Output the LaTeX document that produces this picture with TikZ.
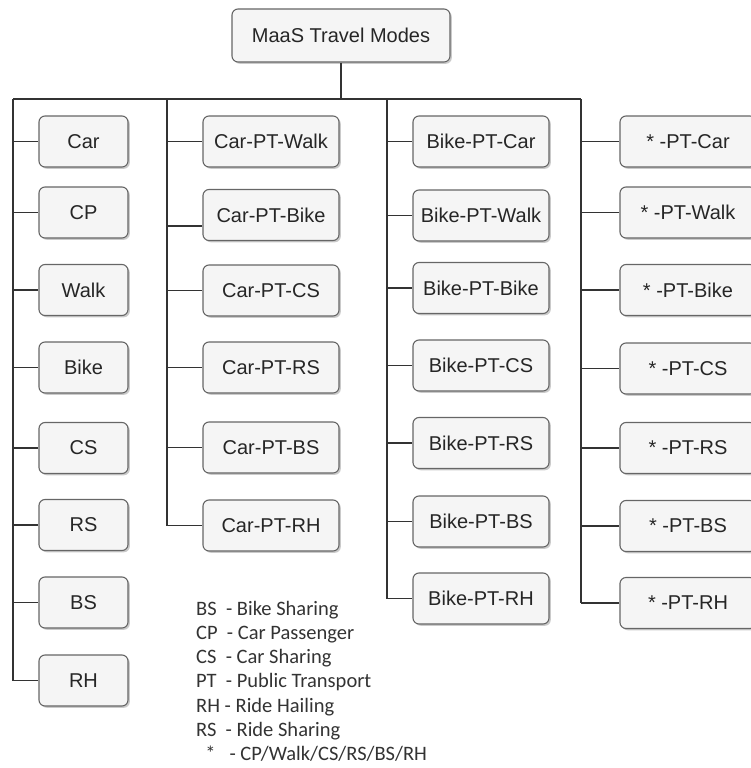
\documentclass[tikz,border=0pt]{standalone}
\usepackage{fontspec}
\setmainfont{Liberation Sans}
\newfontfamily\legendfont{Carlito}
\usetikzlibrary{shadows}
\definecolor{boxfill}{HTML}{F5F5F5}
\definecolor{boxline}{HTML}{666666}
\definecolor{wire}{HTML}{333333}
\definecolor{legtext}{HTML}{333333}
\tikzset{
  mbox/.style={draw=boxline, fill=boxfill, rounded corners=6pt, line width=1.1pt,
    minimum height=51pt, inner sep=0pt, text=black!85,
    font=\fontsize{20}{22}\selectfont,
    drop shadow={shadow xshift=1.8pt, shadow yshift=-1.8pt, opacity=0.35, fill=black!60}},
  c1box/.style={mbox, minimum width=89pt},
  c2box/.style={mbox, minimum width=136pt},
  wirestyle/.style={draw=wire, line width=1.3pt},
  legend/.style={anchor=base west, inner sep=0pt, text=legtext,
    font=\legendfont\fontsize{20.5}{24}\selectfont}
}
\begin{document}
\begin{tikzpicture}[x=1pt, y=-1pt]
\useasboundingbox (0,0) rectangle (750,768);

% title
\node[mbox, minimum width=218pt, minimum height=53pt] (title) at (341,35.5) {MaaS Travel Modes};

% column 1
\node[c1box] (car)  at (83.5,141.5) {Car};
\node[c1box] (cp)   at (83.5,212.5) {CP};
\node[c1box] (walk) at (83.5,290)   {Walk};
\node[c1box] (bike) at (83.5,367.5) {Bike};
\node[c1box] (cs)   at (83.5,448)   {CS};
\node[c1box] (rs)   at (83.5,525)   {RS};
\node[c1box] (bs)   at (83.5,602.5) {BS};
\node[c1box] (rh)   at (83.5,680.5) {RH};

% column 2
\node[c2box] (a1) at (271,141.5) {Car-PT-Walk};
\node[c2box] (a2) at (271,215)   {Car-PT-Bike};
\node[c2box] (a3) at (271,290.5) {Car-PT-CS};
\node[c2box] (a4) at (271,367.5) {Car-PT-RS};
\node[c2box] (a5) at (271,447.5) {Car-PT-BS};
\node[c2box] (a6) at (271,525.5) {Car-PT-RH};

% column 3
\node[c2box] (b1) at (481,141.5) {Bike-PT-Car};
\node[c2box] (b2) at (481,215.5) {Bike-PT-Walk};
\node[c2box] (b3) at (481,288)   {Bike-PT-Bike};
\node[c2box] (b4) at (481,365.5) {Bike-PT-CS};
\node[c2box] (b5) at (481,443)   {Bike-PT-RS};
\node[c2box] (b6) at (481,521.5) {Bike-PT-BS};
\node[c2box] (b7) at (481,598.5) {Bike-PT-RH};

% column 4
\node[c2box] (s1) at (688,141.5) {* -PT-Car};
\node[c2box] (s2) at (688,212.5) {* -PT-Walk};
\node[c2box] (s3) at (688,290)   {* -PT-Bike};
\node[c2box] (s4) at (688,368.5) {* -PT-CS};
\node[c2box] (s5) at (688,448)   {* -PT-RS};
\node[c2box] (s6) at (688,526)   {* -PT-BS};
\node[c2box] (s7) at (688,603)   {* -PT-RH};

% bus coordinates
\coordinate (top)  at (341,99);
\coordinate (bus1) at (13,99);
\coordinate (bus2) at (167,99);
\coordinate (bus3) at (387,99);
\coordinate (bus4) at (581,99);
\coordinate (a2in) at ([yshift=-11pt]a2.west);

\draw[wirestyle] (title.south) -- (top);
\draw[wirestyle] (bus1) -- (bus4);
\draw[wirestyle] (bus1) -- (bus1 |- rh.west);
\draw[wirestyle] (bus2) -- (bus2 |- a6.west);
\draw[wirestyle] (bus3) -- (bus3 |- b7.west);
\draw[wirestyle] (bus4) -- (bus4 |- s7.west);

\foreach \n in {car,cp,walk,bike,cs,rs,bs,rh}
  \draw[wirestyle] (bus1 |- \n.west) -- (\n.west);
\foreach \n in {a1,a3,a4,a5,a6}
  \draw[wirestyle] (bus2 |- \n.west) -- (\n.west);
\draw[wirestyle] (bus2 |- a2in) -- (a2in);
\foreach \n in {b1,b2,b3,b4,b5,b6,b7}
  \draw[wirestyle] (bus3 |- \n.west) -- (\n.west);
\foreach \n in {s1,s2,s3,s4,s5,s6,s7}
  \draw[wirestyle] (bus4 |- \n.west) -- (\n.west);

% legend
\node[legend] (l1) at (196,615) {BS\ \ - Bike Sharing};
\node[legend] (l2) at (196,639) {CP\ \ - Car Passenger};
\node[legend] (l3) at (196,663) {CS\ \ - Car Sharing};
\node[legend] (l4) at (196,687) {PT\ \ - Public Transport};
\node[legend] (l5) at (196,712) {RH - Ride Hailing};
\node[legend] (l6) at (196,736) {RS\ \ - Ride Sharing};
\node[legend] (l7) at (196,760) {\ \ *\ \ \ - CP/Walk/CS/RS/BS/RH};
\end{tikzpicture}
\end{document}
